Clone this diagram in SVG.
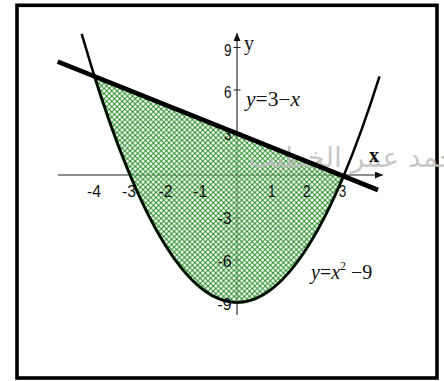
<svg xmlns="http://www.w3.org/2000/svg" width="444" height="381" viewBox="0 0 444 381">
  <style>
    .ax { stroke: #222; stroke-width: 1.1; fill: none; }
    .tk { stroke: #222; stroke-width: 1; }
    .num { font-family: "Liberation Sans", Arial, sans-serif; font-size: 17px; fill: #111; }
    .eq { font-family: "Liberation Serif", "Times New Roman", serif; font-size: 20px; fill: #111; }
    .it { font-style: italic; }
    .wm { font-family: "DejaVu Sans", sans-serif; font-size: 28px; fill: #bdbdbd; fill-opacity: 0.85; }
  </style>
  <defs>
    <marker id="arr" markerUnits="userSpaceOnUse" markerWidth="9" markerHeight="8" refX="8" refY="3.5" orient="auto">
      <path d="M0,0 L8,3.5 L0,7 Z" fill="#111"/>
    </marker>
    <pattern id="hatch" patternUnits="userSpaceOnUse" width="5.2" height="5.2">
      <path d="M0,0 L5.2,5.2 M5.2,0 L0,5.2" stroke="#1e8c1e" stroke-width="1" fill="none"/>
    </pattern>
  </defs>
  <rect width="444" height="381" fill="#fff"/>
  <g id="frame">
    <rect x="17" y="5.3" width="420" height="372.7" fill="none" stroke="#000" stroke-width="3.6"/>
  </g>
  <g id="axes">
    <line class="ax" x1="58" y1="175" x2="383" y2="175" marker-end="url(#arr)"/>
    <line class="ax" x1="237" y1="315" x2="237" y2="33" marker-end="url(#arr)"/>
    <path class="tk" d="M233.5,47.5 H240.5 M233.5,90 H240.5 M233.5,132.5 H240.5 M233.5,217.5 H240.5 M233.5,260 H240.5 M233.5,302.5 H240.5"/>
  </g>
  <g id="region">
    <path d="M94.5,76.45 L343.5,176.2 Q219,471.5 94.5,76.45 Z" fill="#fff" fill-opacity="0.5"/>
    <path d="M94.5,76.45 L343.5,176.2 Q219,471.5 94.5,76.45 Z" fill="url(#hatch)" stroke="#1a7a1a" stroke-width="3"/>
  </g>
  <g id="watermark">
    <text class="wm" x="472" y="167" text-anchor="end">محمد عمر الخطيب</text>
  </g>
  <g id="tick-labels">
    <text class="num" x="100.9" y="197" text-anchor="end" textLength="14" lengthAdjust="spacingAndGlyphs">-4</text>
    <text class="num" x="135.9" y="197" text-anchor="end" textLength="14" lengthAdjust="spacingAndGlyphs">-3</text>
    <text class="num" x="172.5" y="197" text-anchor="end" textLength="14" lengthAdjust="spacingAndGlyphs">-2</text>
    <text class="num" x="207.3" y="197" text-anchor="end" textLength="14" lengthAdjust="spacingAndGlyphs">-1</text>
    <text class="num" x="271.7" y="197" text-anchor="middle" textLength="7.5" lengthAdjust="spacingAndGlyphs">1</text>
    <text class="num" x="306.7" y="197" text-anchor="middle" textLength="7.5" lengthAdjust="spacingAndGlyphs">2</text>
    <text class="num" x="342.5" y="197" text-anchor="middle" textLength="7.5" lengthAdjust="spacingAndGlyphs">3</text>
    <text class="num" x="231.5" y="56" text-anchor="end" textLength="7.5" lengthAdjust="spacingAndGlyphs">9</text>
    <text class="num" x="231.5" y="97.5" text-anchor="end" textLength="7.5" lengthAdjust="spacingAndGlyphs">6</text>
    <text class="num" x="231.5" y="140" text-anchor="end" textLength="7.5" lengthAdjust="spacingAndGlyphs">3</text>
    <text class="num" x="231.5" y="224" text-anchor="end" textLength="14" lengthAdjust="spacingAndGlyphs">-3</text>
    <text class="num" x="231.5" y="267" text-anchor="end" textLength="14" lengthAdjust="spacingAndGlyphs">-6</text>
    <text class="num" x="231.5" y="310" text-anchor="end" textLength="14" lengthAdjust="spacingAndGlyphs">-9</text>
    <text class="eq" x="244" y="50" font-size="17">y</text>
    <text class="eq" x="369" y="162" font-size="15" font-weight="bold">x</text>
  </g>
  <g id="curves">
    <path d="M81.7,33.9 Q230.6,548.9 379.5,76.4" fill="none" stroke="#000" stroke-width="2.5"/>
    <line x1="57.7" y1="61.7" x2="378" y2="190" stroke="#000" stroke-width="4.6"/>
  </g>
  <g id="equations">
    <text class="eq" x="246" y="106" textLength="54" lengthAdjust="spacingAndGlyphs"><tspan class="it">y</tspan>=3−<tspan class="it">x</tspan></text>
    <text class="eq" x="311" y="279"><tspan class="it">y</tspan>=<tspan class="it">x</tspan><tspan font-size="12" dy="-9">2</tspan><tspan dy="9"> −9</tspan></text>
  </g>
</svg>
